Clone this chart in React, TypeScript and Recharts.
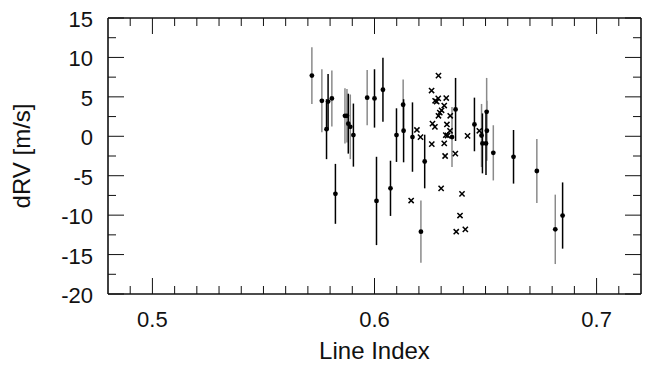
// dRV vs line index scatter — dots with error bars (two sets) plus crosses.
import { ScatterChart, Scatter, XAxis, YAxis, ErrorBar, Label } from 'recharts'

// dots drawn with grey error bars
const grayX = [0.5718, 0.5763, 0.5808, 0.5867, 0.5876, 0.5891, 0.5967, 0.6129, 0.6209, 0.6349, 0.6482, 0.6505, 0.6506, 0.6535, 0.6731, 0.6814]
const grayY = [7.7, 4.5, 4.8, 2.6, 2.6, 1.2, 4.9, 4.0, -12.1, -0.1, 0.1, 3.1, 0.7, -2.1, -4.4, -11.8]
const grayErr = [3.6, 4.0, 3.55, 3.5, 3.4, 4.1, 3.5, 3.2, 3.95, 3.8, 4.0, 4.3, 3.8, 3.5, 4.05, 4.4]

// dots drawn with black error bars
const blackX = [0.5784, 0.5791, 0.5824, 0.5882, 0.5905, 0.6, 0.6009, 0.6038, 0.6072, 0.6099, 0.6131, 0.6171, 0.6226, 0.6365, 0.645, 0.6486, 0.6502, 0.6626, 0.6847]
const blackY = [0.9, 4.4, -7.3, 1.6, 0.15, 4.8, -8.2, 5.9, -6.6, 0.15, 0.7, -0.1, -3.2, 3.4, 1.5, -0.9, -0.9, -2.6, -10.05]
const blackErr = [3.8, 3.5, 3.8, 3.8, 4.0, 3.7, 5.6, 4.05, 3.5, 3.4, 4.0, 4.4, 3.4, 4.0, 3.4, 3.8, 4.0, 3.4, 4.2]

// crosses (no error bars)
const crossX = [0.6165, 0.6191, 0.6207, 0.6257, 0.6258, 0.6261, 0.6272, 0.6273, 0.628, 0.6287, 0.6288, 0.6288, 0.6294, 0.63, 0.6302, 0.6314, 0.6314, 0.6318, 0.6321, 0.6323, 0.6326, 0.6329, 0.634, 0.6341, 0.6364, 0.6368, 0.6385, 0.6394, 0.6409, 0.6419, 0.6472]
const crossY = [-8.15, 0.8, -0.1, 5.8, -1.0, 1.6, 1.2, 4.5, 4.4, 4.8, 7.7, 2.6, 3.0, -6.6, 3.3, 3.9, -0.9, -2.5, 0.15, 4.85, 1.5, 0.1, 0.7, 2.6, -2.2, -12.1, -10.05, -7.3, -11.8, 0.06, 0.7]

// axis ticks (minor every 0.01 / 2.5, labelled every 0.1 / 5)
const xTicks = [0.49, 0.5, 0.51, 0.52, 0.53, 0.54, 0.55, 0.56, 0.57, 0.58, 0.59, 0.6, 0.61, 0.62, 0.63, 0.64, 0.65, 0.66, 0.67, 0.68, 0.69, 0.7, 0.71]
const xLabels = ['0.5', '0.6', '0.7']
const yTicks = [-20, -17.5, -15, -12.5, -10, -7.5, -5, -2.5, 0, 2.5, 5, 7.5, 10, 12.5, 15]
const yLabels = ['-20', '-15', '-10', '-5', '0', '5', '10', '15']

const grayData = grayX.map((x, i) => ({ x, y: grayY[i], err: grayErr[i] }))
const blackData = blackX.map((x, i) => ({ x, y: blackY[i], err: blackErr[i] }))
const crossData = crossX.map((x, i) => ({ x, y: crossY[i] }))

const FONT = '"Liberation Sans", Arial, Helvetica, sans-serif'
const INK = '#111'
const MAJOR = 16
const MINOR = 8

const xLabelOf = (v: number) => xLabels.find((l) => Math.abs(Number(l) - v) < 1e-6)
const yLabelOf = (v: number) => yLabels.find((l) => Math.abs(Number(l) - v) < 1e-6)

function BottomTick({ x, y, payload }: any) {
  const label = xLabelOf(payload.value)
  return (
    <g>
      <line x1={x} x2={x} y1={y} y2={y - (label ? MAJOR : MINOR)} stroke={INK} />
      {label && (
        <text x={x} y={y + 33} textAnchor="middle" fontSize={22} fontFamily={FONT} fill={INK}>
          {label}
        </text>
      )}
    </g>
  )
}

function TopTick({ x, y, payload }: any) {
  const label = xLabelOf(payload.value)
  return <line x1={x} x2={x} y1={y} y2={y + (label ? MAJOR : MINOR)} stroke={INK} />
}

function LeftTick({ x, y, payload }: any) {
  const label = yLabelOf(payload.value)
  return (
    <g>
      <line x1={x} x2={x + (label ? MAJOR : MINOR)} y1={y} y2={y} stroke={INK} />
      {label && (
        <text x={x - 15} y={y + 9} textAnchor="end" fontSize={22} fontFamily={FONT} fill={INK}>
          {label}
        </text>
      )}
    </g>
  )
}

function RightTick({ x, y, payload }: any) {
  const label = yLabelOf(payload.value)
  return <line x1={x} x2={x - (label ? MAJOR : MINOR)} y1={y} y2={y} stroke={INK} />
}

const Dot = (p: any) => <circle cx={p.cx} cy={p.cy} r={2.4} fill="#000" />

const Cross = (p: any) => {
  const s = 2.6
  return (
    <path
      d={`M${p.cx - s},${p.cy - s}L${p.cx + s},${p.cy + s}M${p.cx + s},${p.cy - s}L${p.cx - s},${p.cy + s}`}
      stroke="#000"
      strokeWidth={1.5}
      fill="none"
    />
  )
}

const axisLine = { stroke: INK, strokeWidth: 1.6 }

export default function App() {
  return (
    <div style={{ position: 'absolute', left: 0, top: 0, background: '#fff' }}>
      <ScatterChart width={662} height={365} margin={{ top: 17, right: 20, bottom: 0, left: 0 }}>
        <XAxis
          xAxisId="bottom"
          dataKey="x"
          type="number"
          domain={[0.48, 0.72]}
          allowDataOverflow
          ticks={xTicks}
          interval={0}
          height={71}
          tickSize={0}
          tickMargin={0}
          tickLine={false}
          axisLine={axisLine}
          tick={<BottomTick />}
        >
          <Label
            content={({ viewBox }: any) => (
              <text
                x={viewBox.x + viewBox.width / 2}
                y={viewBox.y + 65}
                textAnchor="middle"
                fontSize={24}
                fontFamily={FONT}
                fill={INK}
              >
                Line Index
              </text>
            )}
          />
        </XAxis>
        <XAxis
          xAxisId="top"
          orientation="top"
          dataKey="x"
          type="number"
          domain={[0.48, 0.72]}
          allowDataOverflow
          ticks={xTicks}
          interval={0}
          height={1}
          tickSize={0}
          tickMargin={0}
          tickLine={false}
          axisLine={axisLine}
          tick={<TopTick />}
        />
        <YAxis
          yAxisId="left"
          dataKey="y"
          type="number"
          domain={[-20, 15]}
          allowDataOverflow
          ticks={yTicks}
          interval={0}
          width={108}
          tickSize={0}
          tickMargin={0}
          tickLine={false}
          axisLine={axisLine}
          tick={<LeftTick />}
        >
          <Label
            content={({ viewBox }: any) => {
              const cx = viewBox.x + 30
              const cy = viewBox.y + viewBox.height / 2
              return (
                <text
                  x={cx}
                  y={cy}
                  transform={`rotate(-90 ${cx} ${cy})`}
                  textAnchor="middle"
                  fontSize={24}
                  fontFamily={FONT}
                  fill={INK}
                >
                  dRV [m/s]
                </text>
              )
            }}
          />
        </YAxis>
        <YAxis
          yAxisId="right"
          orientation="right"
          dataKey="y"
          type="number"
          domain={[-20, 15]}
          allowDataOverflow
          ticks={yTicks}
          interval={0}
          width={1}
          tickSize={0}
          tickMargin={0}
          tickLine={false}
          axisLine={axisLine}
          tick={<RightTick />}
        />
        <Scatter data={grayData} xAxisId="bottom" yAxisId="left" shape={Dot} isAnimationActive={false}>
          <ErrorBar dataKey="err" direction="y" width={0} stroke="#8a8a8a" strokeWidth={1.5} isAnimationActive={false} />
        </Scatter>
        <Scatter data={blackData} xAxisId="bottom" yAxisId="left" shape={Dot} isAnimationActive={false}>
          <ErrorBar dataKey="err" direction="y" width={0} stroke="#000" strokeWidth={1.5} isAnimationActive={false} />
        </Scatter>
        {/* crosses sit on the mirrored top/right axes (same domains) so those axes get drawn */}
        <Scatter data={crossData} xAxisId="top" yAxisId="right" shape={Cross} isAnimationActive={false} />
      </ScatterChart>
    </div>
  )
}
